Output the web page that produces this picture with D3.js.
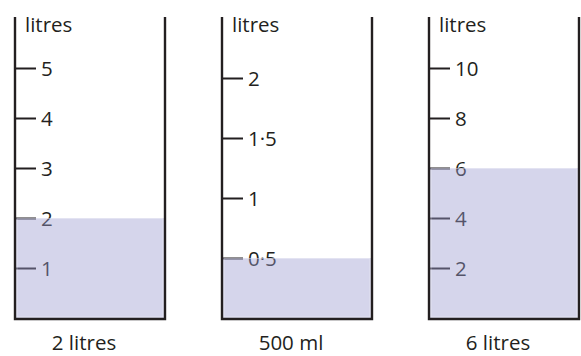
<!DOCTYPE html>
<html>
<head>
<meta charset="utf-8">
<script src="https://cdn.jsdelivr.net/npm/d3@7"></script>
<style>
  html, body { margin: 0; padding: 0; background: #fff; }
  svg { display: block; }
  text { font-family: "Open Sans", "Noto Sans", sans-serif; fill: #231f20; }
</style>
</head>
<body>
<svg id="chart" width="581" height="356"></svg>
<script>
// ---- data ----
const containers = ["2 litres", "500 ml", "6 litres"];
const amounts = [2, 0.5, 6];            // litres in each container
const scaleMax = [6, 2.5, 12];          // top of each scale (litres)
const tickValues = [[1, 2, 3, 4, 5], [0.5, 1, 1.5, 2], [2, 4, 6, 8, 10]];
const tickLabels = [["1", "2", "3", "4", "5"], ["0·5", "1", "1·5", "2"], ["2", "4", "6", "8", "10"]];
const unitLabel = "litres";

// ---- layout ----
const baseY = 318, topY = 18, wallTop = 17;
const ink = "#231f20";
const fontSize = "20.5px";

const svg = d3.select("#chart");
const x = d3.scaleBand().domain(containers).range([15, 579]).paddingInner(57 / 207).paddingOuter(0);
const bw = x.bandwidth();

containers.forEach((c, i) => {
  const x0 = x(c), x1 = x0 + bw;
  const y = d3.scaleLinear().domain([0, scaleMax[i]]).range([baseY, topY]);
  const g = svg.append("g");

  // axis ticks
  const axis = d3.axisRight(y)
    .tickValues(tickValues[i])
    .tickFormat((d, k) => tickLabels[i][k])
    .tickSize(21)
    .tickPadding(5);
  const ag = g.append("g").attr("transform", `translate(${x0},0)`).call(axis);
  ag.select(".domain").remove();
  ag.selectAll(".tick line").attr("stroke", ink).attr("stroke-width", 2);
  ag.selectAll(".tick text")
    .attr("fill", ink)
    .attr("dy", "0.36em")
    .style("font-family", '"Open Sans", "Noto Sans", sans-serif')
    .style("font-size", fontSize);

  // unit label
  g.append("text")
    .attr("x", x0 + 10)
    .attr("y", 32)
    .style("font-size", fontSize)
    .text(unitLabel);

  // liquid (semi-transparent overlay)
  g.append("rect")
    .attr("x", x0 + 1)
    .attr("y", y(amounts[i]))
    .attr("width", bw - 2)
    .attr("height", baseY - y(amounts[i]))
    .attr("fill", "rgb(155,156,207)")
    .attr("fill-opacity", 0.42);
  g.append("rect")
    .attr("x", x0 + 2)
    .attr("y", y(amounts[i]) + 0.5)
    .attr("width", bw - 4)
    .attr("height", baseY - y(amounts[i]) - 1.5)
    .attr("fill", "none")
    .attr("stroke", "#ffffff")
    .attr("stroke-opacity", 0.35)
    .attr("stroke-width", 1);

  // container walls
  g.append("path")
    .attr("d", `M${x0},${wallTop}V${baseY + 1}H${x1}V${wallTop}`)
    .attr("fill", "none")
    .attr("stroke", ink)
    .attr("stroke-width", 2.4);

  // container label
  g.append("text")
    .attr("x", x0 + bw / 2 - 6)
    .attr("y", 350)
    .attr("text-anchor", "middle")
    .style("font-size", fontSize)
    .text(c);
});
</script>
</body>
</html>
